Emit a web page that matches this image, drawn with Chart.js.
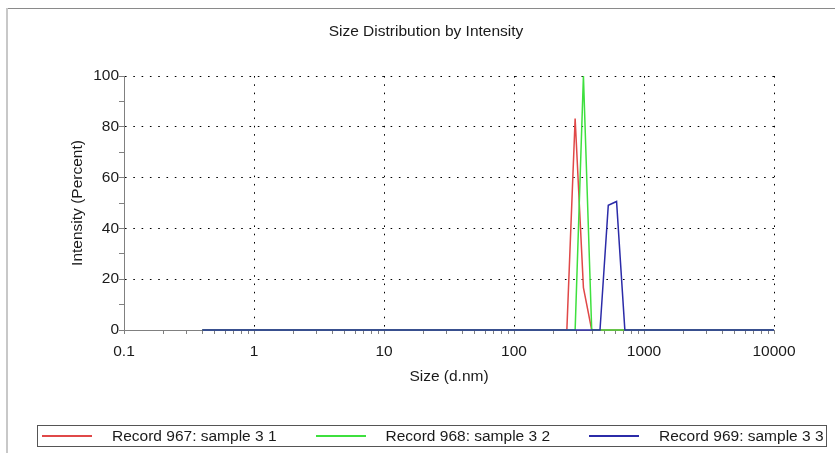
<!DOCTYPE html>
<html>
<head>
<meta charset="utf-8">
<script src="https://cdn.jsdelivr.net/npm/chart.js@4/dist/chart.umd.min.js"></script>
<style>
  body { margin: 0; background: #fff; }
  #wrap { position: relative; width: 835px; height: 453px; overflow: hidden;
          font-family: "Liberation Sans", Arial, sans-serif; color: #1a1a1a; }
  #chart { position: absolute; left: 0; top: 0; }
  #frameTop { position: absolute; left: 7px; top: 8px; right: 0; height: 1px; background: #8a8a8a; }
  #frameLeft { position: absolute; left: 6px; top: 8px; bottom: 0; width: 2px; background: #c8c8c8; }
  #title { position: absolute; left: 0; width: 852px; top: 22px; text-align: center;
           font-size: 15.5px; line-height: 18px; }
  #legend { position: absolute; left: 37px; top: 425px; width: 788px; height: 20px;
            border: 1px solid #555; }
  .item { position: absolute; top: 0; height: 20px; display: flex; align-items: center;
          font-size: 15.5px; line-height: 20px; white-space: nowrap; }
  .swatch { width: 50px; height: 1.5px; margin-right: 20px; }
</style>
</head>
<body>
<div id="wrap">
  <div id="frameTop"></div>
  <div id="frameLeft"></div>
  <canvas id="chart" width="835" height="453"></canvas>
  <div id="title">Size Distribution by Intensity</div>
  <div id="legend"></div>
</div>
<script>
// size bins (d.nm)
const sizes = [
  0.4, 0.4632, 0.5365, 0.6213, 0.7195, 0.8332, 0.9649,
  1.117, 1.294, 1.499, 1.736, 2.010, 2.328, 2.696, 3.122, 3.615, 4.187, 4.849, 5.615, 6.503, 7.531, 8.721,
  10.10, 11.70, 13.54, 15.69, 18.17, 21.04, 24.36, 28.21, 32.67, 37.84, 43.82, 50.75, 58.77, 68.06, 78.82, 91.28,
  105.7, 122.4, 141.8, 164.2, 190.1, 220.2, 255.0, 295.3, 342.0, 396.1, 458.7, 531.2, 615.1, 712.4, 825.0, 955.4,
  1106, 1281, 1484, 1718, 1990, 2305, 2669, 3091, 3580, 4145, 4801, 5560, 6439, 7456, 8635, 10000
];

const record967 = [
  0, 0, 0, 0, 0, 0, 0, 0, 0, 0,
  0, 0, 0, 0, 0, 0, 0, 0, 0, 0,
  0, 0, 0, 0, 0, 0, 0, 0, 0, 0,
  0, 0, 0, 0, 0, 0, 0, 0, 0, 0,
  0, 0, 0, 0, 0, 83.3, 16.7, 0, 0, 0,
  0, 0, 0, 0, 0, 0, 0, 0, 0, 0,
  0, 0, 0, 0, 0, 0, 0, 0, 0, 0
];
const record968 = [
  0, 0, 0, 0, 0, 0, 0, 0, 0, 0,
  0, 0, 0, 0, 0, 0, 0, 0, 0, 0,
  0, 0, 0, 0, 0, 0, 0, 0, 0, 0,
  0, 0, 0, 0, 0, 0, 0, 0, 0, 0,
  0, 0, 0, 0, 0, 0, 100, 0, 0, 0,
  0, 0, 0, 0, 0, 0, 0, 0, 0, 0,
  0, 0, 0, 0, 0, 0, 0, 0, 0, 0
];
const record969 = [
  0, 0, 0, 0, 0, 0, 0, 0, 0, 0,
  0, 0, 0, 0, 0, 0, 0, 0, 0, 0,
  0, 0, 0, 0, 0, 0, 0, 0, 0, 0,
  0, 0, 0, 0, 0, 0, 0, 0, 0, 0,
  0, 0, 0, 0, 0, 0, 0, 0, 0, 49.1,
  50.6, 0, 0, 0, 0, 0, 0, 0, 0, 0,
  0, 0, 0, 0, 0, 0, 0, 0, 0, 0
];

const seriesLabels = ['Record 967: sample 3 1', 'Record 968: sample 3 2', 'Record 969: sample 3 3'];
const seriesColors = ['#e04848', '#3ee03e', '#2b2ba8'];
const seriesValues = [record967, record968, record969];

const decadeTicks = [0.1, 1, 10, 100, 1000, 10000];
const yTicks = [0, 10, 20, 30, 40, 50, 60, 70, 80, 90, 100];

// log axis ticks: decades plus 2..9 minors
let xTicks = [];
decadeTicks.forEach(function(d, i) {
  xTicks.push(d);
  if (i < decadeTicks.length - 1)
    for (let m = 2; m <= 9; m++) xTicks.push(d * m);
});

function isDecade(v) {
  return decadeTicks.some(d => Math.abs(v - d) / d < 1e-6);
}

Chart.defaults.font.family = '"Liberation Sans", Arial, sans-serif';
Chart.defaults.font.size = 15.5;
Chart.defaults.color = '#1a1a1a';

const datasets = seriesValues.map(function(vals, i) {
  return {
    label: seriesLabels[i],
    data: sizes.map((s, j) => ({x: s, y: vals[j]})),
    borderColor: seriesColors[i],
    borderWidth: 1.5,
    pointRadius: 0,
    tension: 0,
    fill: false,
    clip: 4,
    order: 3 - i
  };
});

const config = {
  type: 'line',
  data: { datasets: datasets },
  options: {
    responsive: false,
    animation: false,
    layout: { padding: { left: 60, right: 61, top: 76, bottom: 60 } },
    plugins: {
      legend: { display: false },
      tooltip: { enabled: false },
      title: { display: false }
    },
    scales: {
      x: {
        type: 'logarithmic',
        min: 0.1,
        max: 10000,
        afterBuildTicks: function(scale) {
          scale.ticks = xTicks.map(v => ({ value: v }));
        },
        afterFit: function(scale) { scale.height = 63; },
        ticks: {
          autoSkip: false,
          maxRotation: 0,
          padding: 8,
          callback: function(v) { return isDecade(v) ? String(v) : ''; }
        },
        grid: {
          color: function(ctx) {
            const v = ctx.tick ? ctx.tick.value : 0;
            return (isDecade(v) && v > 0.1) ? '#000' : 'rgba(0,0,0,0)';
          },
          tickColor: '#808080',
          tickLength: 4,
          tickBorderDash: [],
          lineWidth: 1
        },
        border: { color: '#808080', width: 1, dash: [1.6, 6.7] },
        title: { display: true, text: 'Size (d.nm)', padding: { top: 0, bottom: 7 } }
      },
      y: {
        type: 'linear',
        min: 0,
        max: 100,
        afterBuildTicks: function(scale) {
          scale.ticks = yTicks.map(v => ({ value: v }));
        },
        afterFit: function(scale) { scale.width = 64; },
        ticks: {
          padding: 0,
          callback: function(v) { return v % 20 === 0 ? String(v) : ''; }
        },
        grid: {
          color: function(ctx) {
            const v = ctx.tick ? ctx.tick.value : 0;
            return (v > 0 && v % 20 === 0) ? '#000' : 'rgba(0,0,0,0)';
          },
          tickColor: '#808080',
          tickLength: 5,
          tickBorderDash: [],
          lineWidth: 1
        },
        border: { color: '#808080', width: 1, dash: [1.6, 6.7] },
        title: { display: true, text: 'Intensity (Percent)', padding: { top: 8, bottom: 0 } }
      }
    }
  }
};

new Chart(document.getElementById('chart').getContext('2d'), config);

// legend box
const legend = document.getElementById('legend');
seriesLabels.forEach(function(label, i) {
  const item = document.createElement('div');
  item.className = 'item';
  item.style.left = (4 + i * 273.5) + 'px';
  const sw = document.createElement('div');
  sw.className = 'swatch';
  sw.style.background = seriesColors[i];
  const txt = document.createElement('span');
  txt.textContent = label;
  item.appendChild(sw);
  item.appendChild(txt);
  legend.appendChild(item);
});
</script>
</body>
</html>
